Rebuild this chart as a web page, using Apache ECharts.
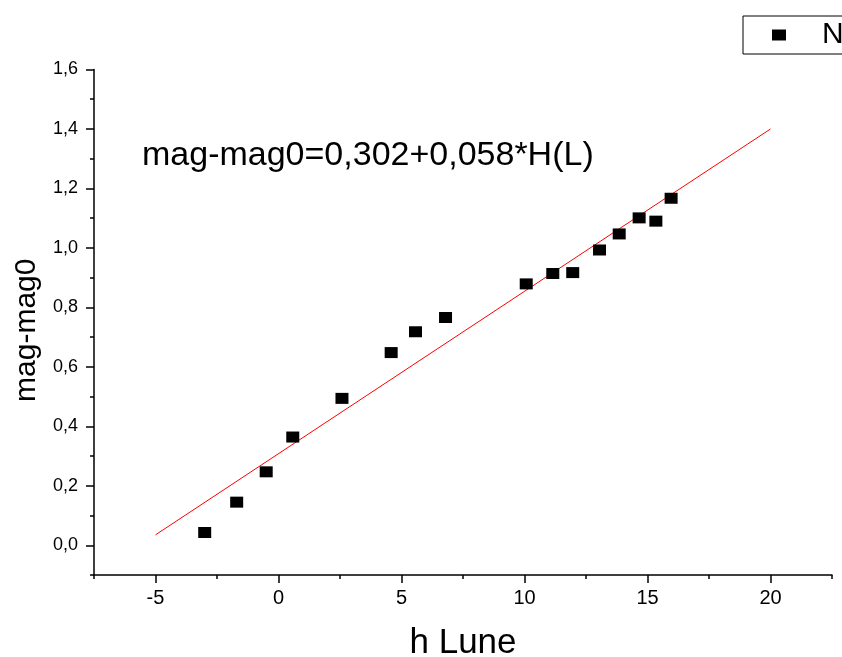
<!DOCTYPE html>
<html>
<head>
<meta charset="utf-8">
<script src="https://cdn.jsdelivr.net/npm/echarts@6/dist/echarts.min.js"></script>
<style>
  html, body { margin: 0; padding: 0; background: #fff; }
  #chart { width: 842px; height: 657px; }
</style>
</head>
<body>
<div id="chart"></div>
<script>
// Measured points: lunar altitude vs. magnitude offset
const hLune = [-3.00, -1.70, -0.50, 0.58, 2.58, 4.58, 5.57, 6.79, 10.07, 11.15, 11.96, 13.05, 13.85, 14.66, 15.34, 15.96];
const magDiff = [0.043, 0.145, 0.247, 0.364, 0.494, 0.648, 0.718, 0.766, 0.879, 0.914, 0.917, 0.993, 1.047, 1.101, 1.090, 1.167];

// Fitted straight line, drawn between its two end points
const fitX = [-5, 20];
const fitY = [0.035, 1.40];

// Axis ticks
const xMajorTicks = [-5, 0, 5, 10, 15, 20];
const xMinorTicks = [-7.5, -2.5, 2.5, 7.5, 12.5, 17.5, 22.5];
const yMajorTicks = [0, 0.2, 0.4, 0.6, 0.8, 1.0, 1.2, 1.4, 1.6];
const yMinorTicks = [-0.1, 0.1, 0.3, 0.5, 0.7, 0.9, 1.1, 1.3, 1.5];

const equationText = 'mag-mag0=0,302+0,058*H(L)';
const FONT = '"Liberation Sans", Arial, sans-serif';

const chart = echarts.init(document.getElementById('chart'), null, { renderer: 'canvas' });

const axisLine = { show: true, onZero: false, lineStyle: { color: '#000', width: 1.5 } };
const hiddenLine = { show: false, onZero: false };
const commaDecimal = v => Number(v).toFixed(1).replace('.', ',');

chart.setOption({
  backgroundColor: '#fff',
  animation: false,
  textStyle: { fontFamily: FONT },
  grid: { left: 94, right: 10, top: 69.5, bottom: 82, outerBoundsMode: 'none', containLabel: false },
  title: {
    text: equationText,
    left: 142,
    top: 139,
    padding: 0,
    textStyle: { fontFamily: FONT, fontSize: 34, fontWeight: 'normal', color: '#000' }
  },
  legend: {
    data: ['N'],
    left: 743,
    top: 16,
    padding: [4, 60, 4, 29],
    borderColor: '#000',
    borderWidth: 1,
    backgroundColor: '#fff',
    itemWidth: 14,
    itemHeight: 11,
    icon: 'rect',
    textStyle: { fontFamily: FONT, fontSize: 30, color: '#000', lineHeight: 30, padding: [0, 0, 0, 31] }
  },
  xAxis: [
    {
      type: 'value',
      position: 'bottom',
      min: -7.5,
      max: 22.5,
      name: 'h Lune',
      nameLocation: 'middle',
      nameGap: 51,
      nameTextStyle: { fontFamily: FONT, fontSize: 35, color: '#000' },
      axisLine: axisLine,
      axisTick: { show: true, length: 8, customValues: xMajorTicks, lineStyle: { color: '#000', width: 1.5 } },
      axisLabel: { customValues: xMajorTicks, margin: 13, fontSize: 20, color: '#000', fontFamily: FONT },
      splitLine: { show: false }
    },
    {
      type: 'value',
      position: 'bottom',
      min: -7.5,
      max: 22.5,
      axisLine: hiddenLine,
      axisTick: { show: true, length: 4, customValues: xMinorTicks, lineStyle: { color: '#000', width: 1.5 } },
      axisLabel: { show: false },
      splitLine: { show: false }
    }
  ],
  yAxis: [
    {
      type: 'value',
      position: 'left',
      min: -0.1,
      max: 1.6,
      name: 'mag-mag0',
      nameLocation: 'middle',
      nameGap: 52,
      nameTextStyle: { fontFamily: FONT, fontSize: 30, color: '#000', padding: [0, 16, 0, 0] },
      axisLine: axisLine,
      axisTick: { show: true, length: 8, customValues: yMajorTicks, lineStyle: { color: '#000', width: 1.5 } },
      axisLabel: { customValues: yMajorTicks, margin: 16, fontSize: 18, color: '#000', fontFamily: FONT, formatter: commaDecimal },
      splitLine: { show: false }
    },
    {
      type: 'value',
      position: 'left',
      min: -0.1,
      max: 1.6,
      axisLine: hiddenLine,
      axisTick: { show: true, length: 4, customValues: yMinorTicks, lineStyle: { color: '#000', width: 1.5 } },
      axisLabel: { show: false },
      splitLine: { show: false }
    }
  ],
  series: [
    {
      name: 'fit',
      type: 'line',
      xAxisIndex: 0,
      yAxisIndex: 0,
      data: fitX.map((x, i) => [x, fitY[i]]),
      showSymbol: false,
      symbol: 'none',
      lineStyle: { color: '#ff0000', width: 1 },
      z: 2
    },
    {
      name: 'N',
      type: 'scatter',
      xAxisIndex: 0,
      yAxisIndex: 0,
      data: hLune.map((x, i) => [x, magDiff[i]]),
      symbol: 'rect',
      symbolSize: [13, 11],
      itemStyle: { color: '#000', opacity: 1 },
      z: 3
    }
  ]
});
</script>
</body>
</html>
